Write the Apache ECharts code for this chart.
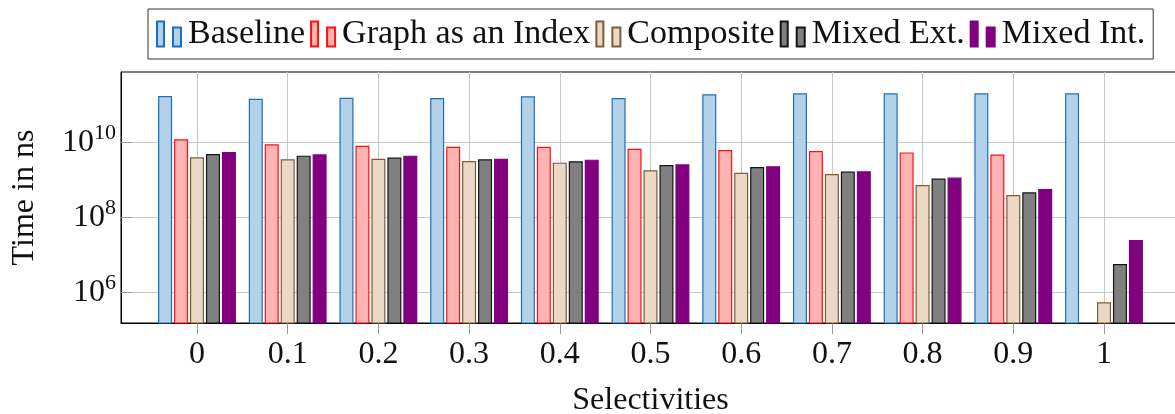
<!DOCTYPE html>
<html>
<head>
<meta charset="utf-8">
<script src="https://cdn.jsdelivr.net/npm/echarts@6/dist/echarts.min.js"></script>
<style>html,body{margin:0;padding:0;background:#fff}#c{width:1175px;height:414px}</style>
</head>
<body>
<div id="c"></div>
<script>
var selectivities = [0, 0.1, 0.2, 0.3, 0.4, 0.5, 0.6, 0.7, 0.8, 0.9, 1];
var xTickLabels = ['0', '0.1', '0.2', '0.3', '0.4', '0.5', '0.6', '0.7', '0.8', '0.9', '1'];
var yTickValues = [1e6, 1e8, 1e10];
var seriesNames = ['Baseline', 'Graph as an Index', 'Composite', 'Mixed Ext.', 'Mixed Int.'];
var baseline = [1.76e11, 1.49e11, 1.58e11, 1.55e11, 1.73e11, 1.55e11, 1.95e11, 2.07e11, 2.07e11, 2.07e11, 2.07e11];
var graphIndex = [1.23e10, 9.1e9, 8.3e9, 7.8e9, 7.8e9, 6.9e9, 6.4e9, 6.0e9, 5.5e9, 4.8e9, null];
var composite = [4.1e9, 3.6e9, 3.74e9, 3.25e9, 2.93e9, 1.84e9, 1.58e9, 1.46e9, 7.4e8, 4.0e8, 5.5e5];
var mixedExt = [5.0e9, 4.5e9, 4.0e9, 3.6e9, 3.19e9, 2.54e9, 2.25e9, 1.69e9, 1.1e9, 4.75e8, 5.8e6];
var mixedInt = [5.6e9, 4.9e9, 4.5e9, 3.74e9, 3.52e9, 2.65e9, 2.35e9, 1.73e9, 1.17e9, 5.8e8, 2.54e7];

var values = [baseline, graphIndex, composite, mixedExt, mixedInt];
var fills = ['#b3d2e8', '#ffb3b3', '#ebd9c5', '#808080', '#800080'];
var borders = ['#1a6fc0', '#ff1010', '#7d5c3c', '#151515', '#800080'];

var FONT = 'Liberation Serif';
var icon = 'path://M0,0h7v25h-7z M16,6h8v19h-8z';

var series = seriesNames.map(function (name, i) {
  return {
    name: name,
    type: 'bar',
    barWidth: 14,
    barGap: '14%',
    itemStyle: { color: fills[i], borderColor: borders[i], borderWidth: 1.2 },
    emphasis: { disabled: true },
    data: selectivities.map(function (s, j) { return [s, values[i][j]]; })
  };
});

var chart = echarts.init(document.getElementById('c'), null, { renderer: 'canvas' });
chart.setOption({
  animation: false,
  backgroundColor: '#fff',
  textStyle: { fontFamily: FONT },
  legend: {
    left: 148,
    top: 9,
    padding: [8, 8, 8, 8],
    itemGap: 5,
    itemWidth: 24,
    itemHeight: 25,
    icon: icon,
    borderColor: '#333',
    borderWidth: 1,
    textStyle: { fontFamily: FONT, fontSize: 34, color: '#111', padding: [0, 0, 0, 2] },
    data: seriesNames
  },
  grid: { left: 121, top: 72, width: 1059, height: 251, show: true, borderColor: '#000', borderWidth: 1, containLabel: false, outerBoundsMode: 'none' },
  xAxis: {
    type: 'value',
    min: -0.0838,
    max: 1.0838,
    name: 'Selectivities',
    nameLocation: 'middle',
    nameGap: 62,
    nameTextStyle: { fontFamily: FONT, fontSize: 32, color: '#111' },
    axisLine: { show: true, onZero: false, lineStyle: { color: '#000', width: 1 } },
    axisTick: { show: true, customValues: selectivities, length: 11, inside: false, lineStyle: { color: '#999' } },
    axisLabel: {
      customValues: selectivities,
      fontFamily: FONT, fontSize: 32, color: '#111', margin: 16,
      formatter: function (v) {
        var k = selectivities.indexOf(Math.round(v * 10) / 10);
        return k >= 0 ? xTickLabels[k] : '';
      }
    },
    splitLine: { show: true, lineStyle: { color: '#c8c8c8', width: 1 } }
  },
  yAxis: {
    type: 'log',
    logBase: 10,
    min: Math.pow(10, 5.19),
    max: Math.pow(10, 11.885),
    name: 'Time in ns',
    nameLocation: 'middle',
    nameGap: 80,
    nameTextStyle: { fontFamily: FONT, fontSize: 32, color: '#111' },
    axisLine: { show: true, onZero: false, lineStyle: { color: '#000', width: 1 } },
    axisTick: { show: true, customValues: yTickValues, inside: true, length: 11, lineStyle: { color: '#999' } },
    axisLabel: {
      customValues: yTickValues,
      margin: 5,
      formatter: function (v) {
        var e = Math.round(Math.log10(v));
        return '{b|10}{s|' + e + '}';
      },
      rich: {
        b: { fontFamily: FONT, fontSize: 32, color: '#111', verticalAlign: 'bottom', lineHeight: 32, padding: [6, 0, 0, 0] },
        s: { fontFamily: FONT, fontSize: 22, color: '#111', verticalAlign: 'bottom', lineHeight: 22, padding: [0, 0, 14, 0] }
      }
    },
    splitLine: { show: true, lineStyle: { color: '#c8c8c8', width: 1 } }
  },
  series: series
});
</script>
</body>
</html>
